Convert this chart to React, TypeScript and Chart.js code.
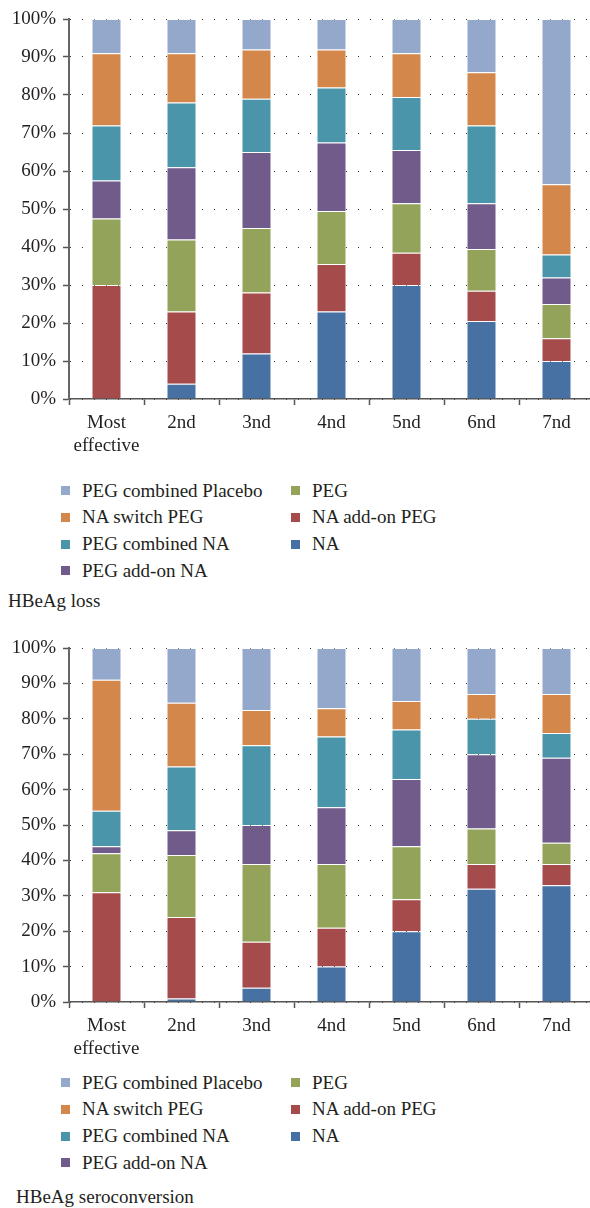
import React, { useEffect, useRef } from "react";
import { Chart, registerables } from "chart.js";

Chart.register(...registerables);

const categories: (string | string[])[] = [["Most", "effective"], "2nd", "3nd", "4nd", "5nd", "6nd", "7nd"];

// stack order: bottom to top
const seriesNames = [
  "NA",
  "NA add-on PEG",
  "PEG",
  "PEG add-on NA",
  "PEG combined NA",
  "NA switch PEG",
  "PEG combined Placebo",
];
const seriesColors = ["#4770A3", "#A54B4B", "#93A45A", "#715B8A", "#4A95AA", "#D4874A", "#94A8CC"];

// HBeAg loss
const lossNA = [0, 4, 12, 23, 30, 20.5, 10];
const lossNAaddonPEG = [30, 19, 16, 12.5, 8.5, 8, 6];
const lossPEG = [17.5, 19, 17, 14, 13, 11, 9];
const lossPEGaddonNA = [10, 19, 20, 18, 14, 12, 7];
const lossPEGcombNA = [14.5, 17, 14, 14.5, 14, 20.5, 6];
const lossNAswitchPEG = [19, 13, 13, 10, 11.5, 14, 18.5];
const lossPEGcombPlacebo = [9, 9, 8, 8, 9, 14, 43.5];

// HBeAg seroconversion
const seroNA = [0, 1, 4, 10, 20, 32, 33];
const seroNAaddonPEG = [31, 23, 13, 11, 9, 7, 6];
const seroPEG = [11, 17.5, 22, 18, 15, 10, 6];
const seroPEGaddonNA = [2, 7, 11, 16, 19, 21, 24];
const seroPEGcombNA = [10, 18, 22.5, 20, 14, 10, 7];
const seroNAswitchPEG = [37, 18, 10, 8, 8, 7, 11];
const seroPEGcombPlacebo = [9, 15.5, 17.5, 17, 15, 13, 13];

const lossSeries = [lossNA, lossNAaddonPEG, lossPEG, lossPEGaddonNA, lossPEGcombNA, lossNAswitchPEG, lossPEGcombPlacebo];
const seroSeries = [seroNA, seroNAaddonPEG, seroPEG, seroPEGaddonNA, seroPEGcombNA, seroNAswitchPEG, seroPEGcombPlacebo];

const yTickStep = 10;
const yMax = 100;

const FONT = "'Liberation Serif', 'Times New Roman', 'DejaVu Serif', serif";
const TEXT = "#231F20";
const PAD_TOP = 19;
const X_AXIS_H = 60;

function StackedChart({ series, top, plotH }: { series: number[][]; top: number; plotH: number }) {
  const ref = useRef<HTMLCanvasElement>(null);
  const h = PAD_TOP + plotH + X_AXIS_H;
  useEffect(() => {
    const chart = new Chart(ref.current!, {
      type: "bar",
      data: {
        labels: categories,
        datasets: series.map((d, i) => ({
          label: seriesNames[i],
          data: d,
          backgroundColor: seriesColors[i],
          borderColor: "rgba(255,255,255,0.35)",
          borderWidth: 1,
          barPercentage: 0.4,
          categoryPercentage: 1,
        })),
      },
      options: {
        animation: false,
        responsive: false,
        maintainAspectRatio: false,
        layout: { padding: { top: PAD_TOP, left: 0, right: 0, bottom: 0 } },
        plugins: { legend: { display: false }, tooltip: { enabled: false } },
        scales: {
          x: {
            stacked: true,
            grid: {
              display: true,
              drawOnChartArea: false,
              drawTicks: true,
              tickLength: 6,
              tickColor: "#555",
              tickWidth: 1.5,
            },
            border: { display: true, color: "#555", width: 1.5 },
            ticks: {
              color: TEXT,
              font: { family: FONT, size: 19, lineHeight: 1.24 },
              padding: 6,
              maxRotation: 0,
              autoSkip: false,
            },
            afterFit: (s: any) => {
              s.height = X_AXIS_H;
            },
          },
          y: {
            stacked: true,
            min: 0,
            max: yMax,
            grid: {
              display: true,
              color: "#333",
              lineWidth: 1,
              drawTicks: true,
              tickLength: 6,
              tickColor: "#555",
              tickWidth: 1.5,
              tickBorderDash: [],
            },
            border: { display: true, color: "#666", width: 2, dash: [1, 11] },
            ticks: {
              stepSize: yTickStep,
              color: TEXT,
              font: { family: FONT, size: 19 },
              padding: 7,
              callback: (v: any) => `${v}%`,
            },
            afterFit: (s: any) => {
              s.width = 69;
            },
          },
        },
      },
    });
    return () => chart.destroy();
  }, [series]);
  return (
    <canvas
      ref={ref}
      width={594}
      height={h}
      style={{ position: "absolute", left: 0, top, width: 594, height: h }}
    />
  );
}

function Legend({ rowTops }: { rowTops: number[] }) {
  const order = [6, 5, 4, 3, 2, 1, 0];
  return (
    <>
      {order.map((si, k) => {
        const col = k < 4 ? 0 : 1;
        const row = k < 4 ? k : k - 4;
        const left = col === 0 ? 61 : 291;
        const cy = rowTops[row];
        return (
          <div key={si}>
            <div
              style={{
                position: "absolute",
                left,
                top: cy - 4.5,
                width: 9,
                height: 9,
                background: seriesColors[si],
              }}
            />
            <div
              style={{
                position: "absolute",
                left: left + 21,
                top: cy - 12,
                height: 24,
                lineHeight: "24px",
                fontSize: 19,
                fontFamily: FONT,
                color: TEXT,
                whiteSpace: "nowrap",
              }}
            >
              {seriesNames[si]}
            </div>
          </div>
        );
      })}
    </>
  );
}

function Title({ text, cy, left }: { text: string; cy: number; left: number }) {
  return (
    <div
      style={{
        position: "absolute",
        left,
        top: cy - 12,
        height: 24,
        lineHeight: "24px",
        fontSize: 19,
        fontFamily: FONT,
        color: TEXT,
        whiteSpace: "nowrap",
      }}
    >
      {text}
    </div>
  );
}

export default function App() {
  return (
    <div
      style={{
        position: "absolute",
        left: 0,
        top: 0,
        width: 590,
        height: 1208,
        overflow: "hidden",
        background: "#fff",
      }}
    >
      <StackedChart series={lossSeries} top={0} plotH={380} />
      <Legend rowTops={[490.7, 517.4, 544.1, 570.8]} />
      <Title text="HBeAg loss" cy={601} left={8} />
      <StackedChart series={seroSeries} top={629} plotH={354} />
      <Legend rowTops={[1082.7, 1109.3, 1136, 1162.7]} />
      <Title text="HBeAg seroconversion" cy={1196.7} left={16} />
    </div>
  );
}
